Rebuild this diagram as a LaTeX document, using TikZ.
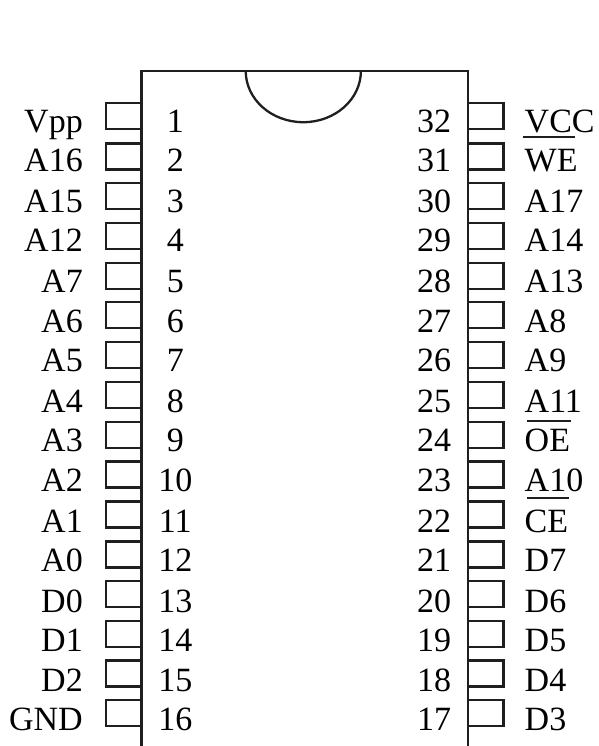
\documentclass[tikz,border=0pt]{standalone}
\usepackage{fontspec}
\setmainfont{Liberation Serif}
\begin{document}
\begin{tikzpicture}[x=1bp,y=-1bp,
  outline/.style={draw=black!88,line width=2.3bp,line join=miter},
  pinbox/.style={outline},
  lbl/.style={inner sep=0pt,font=\fontsize{34bp}{40bp}\selectfont,text=black},
  lbll/.style={lbl,anchor=base east},
  lblr/.style={lbl,anchor=base west},
  num/.style={lbl,anchor=base},
  bar/.style={draw=black!88,line width=2.3bp}]
\useasboundingbox (0,0) rectangle (599,746);
% body, open at the bottom
\draw[outline] (141.5,746) -- (141.5,71) -- (468,71) -- (468,746);
% notch
\draw[outline] (245.7,71) arc[start angle=180,end angle=0,x radius=57.6,y radius=51.2];
% pins
\foreach \n/\t/\b/\lab in {
 1/103/132/Vpp,2/143.5/171/A16,3/183/212/A15,4/223/251/A12,5/263/292/A7,6/302/332/A6,7/342/371/A5,8/382/412/A4,
 9/422/451/A3,10/461.5/491/A2,11/501.5/532/A1,12/541.5/571/A0,13/581/612/D0,14/621/651/D1,15/660.5/691/D2,16/700/730/GND}{
  \draw[pinbox] (141.5,\t) -- (106,\t) -- (106,\t+26) -- (141.5,\t+26);
  \node[lbll] (pl\n) at (83,\b) {\lab};
  \node[num] (nl\n) at (175.3,\b) {\n};
}
\foreach \n/\t/\b/\lab in {
 32/103/132/VCC,31/143.5/171/WE,30/183/212/A17,29/223/251/A14,28/263/292/A13,27/302/332/A8,26/342/371/A9,25/382/412/A11,
 24/422/451/OE,23/461.5/491/A10,22/501.5/532/CE,21/541.5/571/D7,20/581/612/D6,19/621/651/D5,18/660.5/691/D4,17/700/730/D3}{
  \draw[pinbox] (468,\t) -- (503.5,\t) -- (503.5,\t+26) -- (468,\t+26);
  \node[lblr] (pr\n) at (524.5,\b) {\lab};
  \node[num] (nr\n) at (434,\b) {\n};
}
% active-low bars
\draw[bar] (523,137) -- (575,137);
\draw[bar] (527,421) -- (571,421);
\draw[bar] (527,498) -- (569,498);
\end{tikzpicture}
\end{document}
